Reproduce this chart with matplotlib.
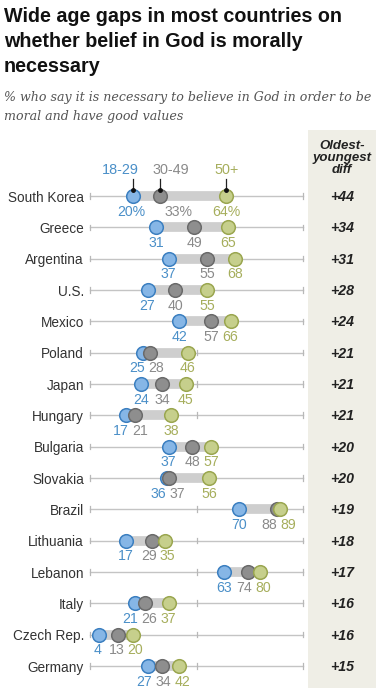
import matplotlib
matplotlib.use("Agg")
import matplotlib.pyplot as plt
from matplotlib.patches import Rectangle

countries = ["South Korea", "Greece", "Argentina", "U.S.", "Mexico", "Poland", "Japan",
             "Hungary", "Bulgaria", "Slovakia", "Brazil", "Lithuania", "Lebanon", "Italy",
             "Czech Rep.", "Germany"]
age_18_29 = [20, 31, 37, 27, 42, 25, 24, 17, 37, 36, 70, 17, 63, 21, 4, 27]
age_30_49 = [33, 49, 55, 40, 57, 28, 34, 21, 48, 37, 88, 29, 74, 26, 13, 34]
age_50_plus = [64, 65, 68, 55, 66, 46, 45, 38, 57, 56, 89, 35, 80, 37, 20, 42]
diffs = ["+44", "+34", "+31", "+28", "+24", "+21", "+21", "+21", "+20", "+20",
         "+19", "+18", "+17", "+16", "+16", "+15"]
series_names = ["18-29", "30-49", "50+"]
ticks = [0, 50, 100]

W, H = 392, 688
fig = plt.figure(figsize=(W / 100, H / 100), dpi=100)
fig.patch.set_facecolor("white")

x0, x1 = 90, 303
ax = fig.add_axes([x0 / W, 0, (x1 - x0) / W, 1])
ax.set_xlim(0, 100)
row0, dy = 196, 31.33
ax.set_ylim((H - row0) / dy, -row0 / dy)
ax.axis("off")

pxu = 100 / (x1 - x0)

fill = ["#86b6e6", "#8e8e8e", "#c6cf8c"]
edge = ["#3b7fc0", "#6a6a6a", "#9aa64f"]
txtc = ["#4a8fc8", "#8a8a8a", "#a6ae5c"]

fam = ["Liberation Sans", "DejaVu Sans"]

ax.add_patch(Rectangle(((308 - x0) * pxu, -(row0 - 130) / dy),
                       (376 - 308) * pxu, (H - 130) / dy,
                       facecolor="#efeee6", edgecolor="none", clip_on=False, zorder=0))

series = [age_18_29, age_30_49, age_50_plus]
n = len(countries)
for i in range(n):
    vals = [s[i] for s in series]
    ax.plot([0, 100], [i, i], color="#c4c4c4", lw=1, clip_on=False, zorder=1)
    for t in ticks:
        ax.plot([t, t], [i - 0.09, i + 0.09], color="#b8b8b8", lw=0.9, clip_on=False, zorder=1)
    ax.plot([min(vals), max(vals)], [i, i], color="#cecece", lw=7, solid_capstyle="butt",
            clip_on=False, zorder=2)
    for k in range(3):
        ax.plot(vals[k], i, "o", ms=9.8, mfc=fill[k], mec=edge[k], mew=1.1,
                clip_on=False, zorder=3 + k)
    ax.text(-6 * pxu, i + 0.05, countries[i], ha="right", va="center", fontsize=9.8,
            color="#333333", family=fam)
    labels = [f"{v}%" if i == 0 else f"{v}" for v in vals]
    pos = [v / pxu for v in vals]
    gaps = [30, 30] if i == 0 else [19, 19]
    for _ in range(50):
        for k in range(2):
            g = pos[k + 1] - pos[k]
            if g < gaps[k]:
                d = (gaps[k] - g) / 2
                pos[k] -= d
                pos[k + 1] += d
    if i == 0:
        pos[1] += 17
    for k in range(3):
        ax.text(pos[k] * pxu, i + 0.5, labels[k], ha="center", va="center",
                fontsize=10.2, color=txtc[k], family=fam)
    ax.text((342 - x0) * pxu, i + 0.03, diffs[i], ha="center", va="center", fontsize=10.2,
            fontweight="bold", fontstyle="italic", color="#222222", family=fam)

nudges = [-6, 5, 0]
for k in range(3):
    v = series[k][0]
    ax.plot([v, v], [-0.55, -0.2], color="#222222", lw=0.9, clip_on=False, zorder=6)
    ax.plot(v, -0.2, "o", ms=2.5, color="#111111", clip_on=False, zorder=7)
    ax.text(v + nudges[k], -0.83, series_names[k], ha="center", va="center",
            fontsize=10.4, color=txtc[k], family=fam)

ax.text((342 - x0) * pxu, -(row0 - 158) / dy, "Oldest-\nyoungest\ndiff", ha="center",
        va="center", fontsize=9.5, fontweight="bold", fontstyle="italic",
        color="#222222", family=fam, linespacing=1.05)

fig.text(4 / W, 1 - 7 / H, "Wide age gaps in most countries on\nwhether belief in God is morally\nnecessary",
         ha="left", va="top", fontsize=14.2, fontweight="bold", color="#111111",
         family=fam, linespacing=1.4)
fig.text(4 / W, 1 - 91 / H, "% who say it is necessary to believe in God in order to be\nmoral and have good values",
         ha="left", va="top", fontsize=9.1, fontstyle="italic", color="#555555",
         family=["DejaVu Serif"], linespacing=1.6)

fig.savefig("out.png", dpi=100)
